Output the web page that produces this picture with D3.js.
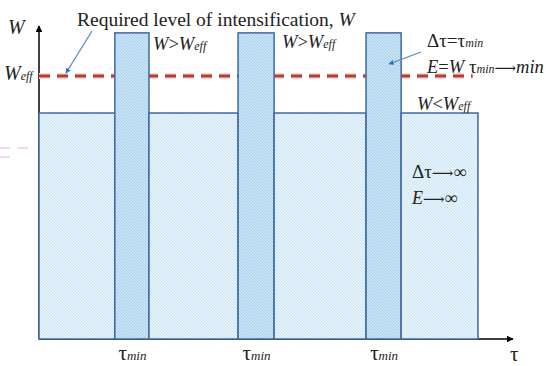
<!DOCTYPE html>
<meta charset="utf-8">
<style>
body { margin: 0; background: #fff; }
svg { display: block; }
.lbl { font-family: "Liberation Serif", "DejaVu Serif", serif; fill: #222; }
.it { font-style: italic; }
.ar { font-family: "DejaVu Serif", serif; }
</style>
<body>
<script src="https://d3js.org/d3.v7.min.js"></script>
<script>
var w = 550, h = 366;

// time segments (arbitrary tau units) and their intensification level
var segStart = [0, 16.0, 23.2, 42.0, 49.6, 69.0, 76.4];
var segEnd   = [16.0, 23.2, 42.0, 49.6, 69.0, 76.4, 92.6];
var segLevel = [7.22, 9.78, 7.22, 9.78, 7.22, 9.78, 7.22];
var segKind  = ["long", "short", "long", "short", "long", "short", "long"];
var wEff = 8.4;
var tauMax = 100, wMax = 10;

var x = d3.scaleLinear().domain([0, tauMax]).range([39, 513]);
var y = d3.scaleLinear().domain([0, wMax]).range([339, 26]);

var svg = d3.select("body").append("svg")
    .attr("width", w)
    .attr("height", h);

var defs = svg.append("defs");
function dots(id, base, dot) {
  var p = defs.append("pattern").attr("id", id)
      .attr("width", 3).attr("height", 3)
      .attr("patternUnits", "userSpaceOnUse");
  p.append("rect").attr("width", 3).attr("height", 3).attr("fill", base);
  p.append("rect").attr("x", 0).attr("y", 0).attr("width", 1).attr("height", 1).attr("fill", dot);
  p.append("rect").attr("x", 1).attr("y", 1).attr("width", 1).attr("height", 1).attr("fill", dot);
  p.append("rect").attr("x", 2).attr("y", 2).attr("width", 1).attr("height", 1).attr("fill", dot);
}
dots("fillLong", "#e6f3fb", "#cbe4f3");
dots("fillShort", "#c9e4f5", "#a5cfea");

["arrBlack", "arrBlue"].forEach(function(id, i) {
  defs.append("marker").attr("id", id)
      .attr("viewBox", "0 0 10 10").attr("refX", 9).attr("refY", 5)
      .attr("markerWidth", i ? 4 : 4.5).attr("markerHeight", i ? 4 : 4.5)
      .attr("markerUnits", "strokeWidth")
      .attr("orient", "auto")
    .append("path").attr("d", "M0,0L10,5L0,10z")
      .attr("fill", i ? "#2f6fd0" : "#000");
});

// faint ghost marks on the left
svg.append("g").selectAll("line")
  .data([[0, 30, 148], [0, 12, 157], [55, 115, 157], [78, 100, 148], [230, 272, 140]])
  .enter().append("line")
  .attr("x1", function(d) { return d[0]; }).attr("x2", function(d) { return d[1]; })
  .attr("y1", function(d) { return d[2]; }).attr("y2", function(d) { return d[2]; })
  .attr("stroke", "#f7c2e6").attr("stroke-width", 2)
  .attr("stroke-dasharray", "10,8").attr("opacity", 0.7);

// axes
svg.append("line")
  .attr("x1", x(0)).attr("y1", y(0)).attr("x2", x(0)).attr("y2", y(wMax))
  .attr("stroke", "#000").attr("stroke-width", 1.5)
  .attr("marker-end", "url(#arrBlack)");
svg.append("line")
  .attr("x1", x(0)).attr("y1", y(0)).attr("x2", x(tauMax)).attr("y2", y(0))
  .attr("stroke", "#000").attr("stroke-width", 1.5)
  .attr("marker-end", "url(#arrBlack)");

// required level W_eff
svg.append("line")
  .attr("x1", x(0)).attr("x2", x(91.5))
  .attr("y1", y(wEff)).attr("y2", y(wEff))
  .attr("stroke", "#fbd3ec").attr("stroke-width", 6)
  .attr("stroke-dasharray", "11,7");
svg.append("line")
  .attr("x1", x(0)).attr("x2", x(91.5))
  .attr("y1", y(wEff)).attr("y2", y(wEff))
  .attr("stroke", "#b8401f").attr("stroke-width", 3)
  .attr("stroke-dasharray", "11,7");

// segments
svg.append("g").selectAll("rect")
  .data(segStart)
  .enter().append("rect")
  .attr("x", function(d) { return x(d); })
  .attr("width", function(d, i) { return x(segEnd[i]) - x(d); })
  .attr("y", function(d, i) { return y(segLevel[i]); })
  .attr("height", function(d, i) { return y(0) - y(segLevel[i]); })
  .attr("fill", function(d, i) { return segKind[i] == "short" ? "url(#fillShort)" : "url(#fillLong)"; })
  .attr("stroke", "#3f68a3").attr("stroke-width", 1.5);

// tick labels tau_min under short segments
var shortMid = [];
segKind.forEach(function(k, i) { if (k == "short") shortMid.push((segStart[i] + segEnd[i]) / 2); });
var xAxis = svg.append("g")
  .attr("transform", "translate(0," + y(0) + ")")
  .call(d3.axisBottom(x).tickValues(shortMid).tickSize(0).tickPadding(0).tickFormat(""));
xAxis.select(".domain").remove();
xAxis.selectAll(".tick text").each(function() {
  var t = d3.select(this).attr("class", "lbl").attr("y", 21).attr("dy", null)
      .style("font-size", "21px");
  t.append("tspan").text("\u03c4");
  t.append("tspan").attr("class", "it").style("font-size", "13px").text("min");
});

function label(px, py, parts, size) {
  var t = svg.append("text").attr("class", "lbl").attr("x", px).attr("y", py)
      .style("font-size", size + "px");
  parts.forEach(function(p) {
    var s = t.append("tspan").text(p[0]);
    if (p[1] == 1) s.attr("class", "it");
    if (p[1] == 2) s.attr("class", "ar");
    if (p[2]) s.style("font-size", p[2] + "px");
  });
  return t;
}

var arrow = "\u27f6";
label(77, 26, [["Required level of intensification, "], ["W", 1]], 19.5);
label(8, 34, [["W", 1]], 20);
label(4, 80, [["W", 1], ["eff", 1, 12]], 20);
label(153, 50, [["W", 1], [">"], ["W", 1], ["eff", 1, 12]], 18.5);
label(282, 48, [["W", 1], [">"], ["W", 1], ["eff", 1, 12]], 18.5);
label(427, 47, [["\u0394\u03c4=\u03c4", 0, 19], ["min", 1, 12]], 18);
label(427, 73, [["E", 1], ["="], ["W", 1], [" \u03c4", 0, 19], ["min", 1, 12], [arrow, 2, 15], ["min", 1]], 18.5);
label(417, 110, [["W", 1], ["<"], ["W", 1], ["eff", 1, 12]], 18.5);
label(412, 178, [["\u0394\u03c4", 0, 19], [arrow, 2, 15], ["\u221e"]], 18);
label(412, 204, [["E", 1], [arrow, 2, 15], ["\u221e"]], 18);
label(510, 361, [["\u03c4"]], 21);

// pointer arrows
svg.append("line")
  .attr("x1", 92).attr("y1", 31).attr("x2", 66).attr("y2", 73)
  .attr("stroke", "#5b87c9").attr("stroke-width", 1.3)
  .attr("marker-end", "url(#arrBlue)");
svg.append("line")
  .attr("x1", 421).attr("y1", 52).attr("x2", 389).attr("y2", 64)
  .attr("stroke", "#5b87c9").attr("stroke-width", 1.3)
  .attr("marker-end", "url(#arrBlue)");
</script>
</body>
